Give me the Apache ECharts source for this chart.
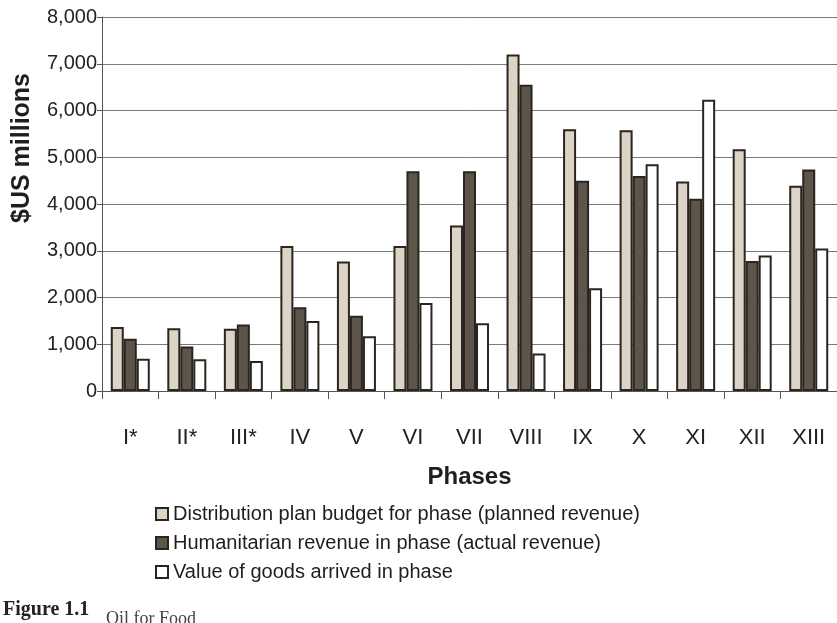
<!DOCTYPE html>
<html>
<head>
<meta charset="utf-8">
<script src="https://cdn.jsdelivr.net/npm/echarts@6/dist/echarts.min.js"></script>
<style>
html,body{margin:0;padding:0;background:#fff;}
#chart{width:837px;height:623px;}
</style>
</head>
<body>
<div id="chart"></div>
<script>
var phases = ['I*','II*','III*','IV','V','VI','VII','VIII','IX','X','XI','XII','XIII'];
var plannedRevenue = [1370,1340,1330,3100,2770,3100,3540,7200,5600,5580,4480,5170,4390];
var actualRevenue  = [1120,950,1420,1790,1610,4700,4700,6550,4500,4600,4110,2780,4740];
var goodsArrived   = [690,680,640,1500,1170,1880,1450,800,2200,4850,6230,2900,3050];
var seriesNames = [
  'Distribution plan budget for phase (planned revenue)',
  'Humanitarian revenue in phase (actual revenue)',
  'Value of goods arrived in phase'
];

var chart = echarts.init(document.getElementById('chart'));
var font = 'Liberation Sans, Arial, Helvetica, sans-serif';
var border = '#2a251f';
function fmt(v){ return v.toString().replace(/\B(?=(\d{3})+(?!\d))/g, ','); }

var colors = ['#ddd4c8', '#5d544a', '#ffffff'];
var dataSets = [plannedRevenue, actualRevenue, goodsArrived];

chart.setOption({
  animation: false,
  backgroundColor: '#ffffff',
  textStyle: {fontFamily: font},
  grid: {left: 102, right: -6, top: 17, bottom: 232, containLabel: false},
  legend: {
    orient: 'vertical',
    left: 150,
    top: 499,
    itemWidth: 12,
    itemHeight: 12,
    itemGap: 9,
    icon: 'rect',
    textStyle: {fontSize: 20, color: '#1e1e1e', fontFamily: font},
    data: seriesNames
  },
  xAxis: {
    type: 'category',
    data: phases,
    boundaryGap: true,
    axisLine: {lineStyle: {color: '#555', width: 1}},
    axisTick: {show: true, length: 8, alignWithLabel: false, lineStyle: {color: '#555'}},
    axisLabel: {fontSize: 22, color: '#222', margin: 36, fontFamily: font},
    name: 'Phases',
    nameLocation: 'middle',
    nameGap: 74,
    nameTextStyle: {fontSize: 24, fontWeight: 'bold', color: '#1e1e1e', fontFamily: font}
  },
  yAxis: {
    type: 'value',
    min: 0,
    max: 8000,
    interval: 1000,
    axisLine: {show: true, lineStyle: {color: '#555', width: 1}},
    axisTick: {show: true, length: 5, lineStyle: {color: '#555'}},
    axisLabel: {fontSize: 20, color: '#222', margin: 5, fontFamily: font,
      formatter: function(v){ return fmt(v); }},
    splitLine: {show: true, lineStyle: {color: '#7a7a7a', width: 1}}
  },
  graphic: [
    {
      type: 'text',
      x: 22, y: 148,
      rotation: Math.PI / 2,
      style: {
        text: '$US millions',
        fontSize: 25, fontWeight: 'bold', fontFamily: font,
        fill: '#1e1e1e', textAlign: 'center', textVerticalAlign: 'middle'
      }
    },
    {
      type: 'text',
      left: 3, top: 600,
      style: {
        text: 'Figure 1.1',
        fontSize: 20, fontWeight: 'bold', fontFamily: 'Liberation Serif, Times New Roman, serif',
        fill: '#222'
      }
    },
    {
      type: 'text',
      left: 106, top: 610,
      style: {
        text: 'Oil for Food',
        fontSize: 18, fontFamily: 'Liberation Serif, Times New Roman, serif',
        fill: '#444'
      }
    }
  ],
  series: seriesNames.map(function(n, i){
    return {
      name: n,
      type: 'bar',
      data: dataSets[i],
      barWidth: 13,
      barGap: '0%',
      itemStyle: {color: colors[i], borderColor: border, borderWidth: 2}
    };
  })
});
</script>
</body>
</html>
